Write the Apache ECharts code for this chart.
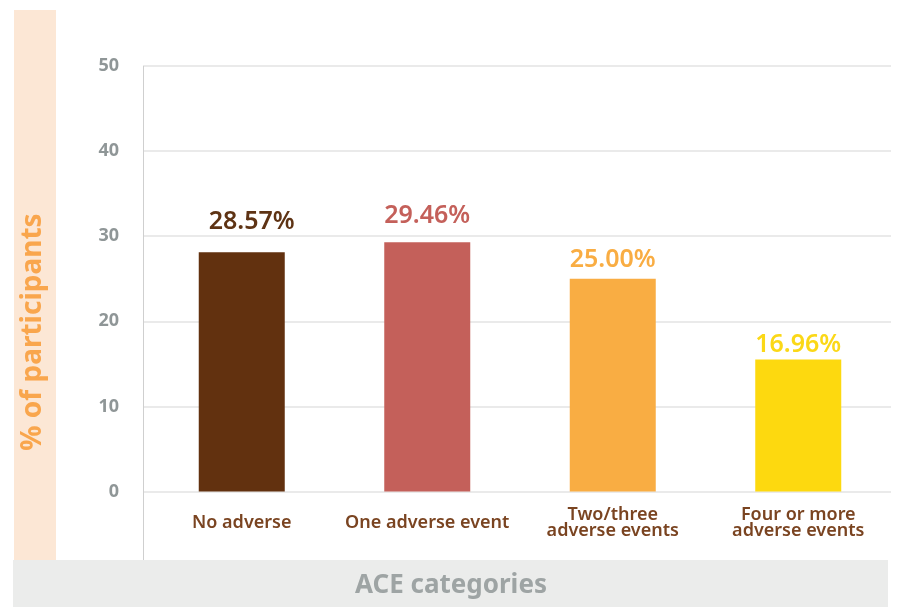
<!DOCTYPE html>
<html>
<head>
<meta charset="utf-8">
<script src="https://cdn.jsdelivr.net/npm/echarts@6/dist/echarts.min.js"></script>
<style>
html,body{margin:0;padding:0;background:#fff;}
#chart{width:900px;height:607px;}
</style>
</head>
<body>
<div id="chart"></div>
<script>
// ---- data ----
const categories = ['No adverse', 'One adverse event', 'Two/three\nadverse events', 'Four or more\nadverse events'];
const barValues = [28.1, 29.3, 25.0, 15.5];
const valueLabels = ['28.57%', '29.46%', '25.00%', '16.96%'];
const yTicks = [0, 10, 20, 30, 40, 50];

// ---- styles ----
const barColors = ['#62310F', '#C4605A', '#F9AD43', '#FDD90F'];
const labelColors = ['#5E3314', '#C4605A', '#F9AD43', '#FBD817'];
const labelDist = [18, 14, 6, 2];
const labelDx = [10, 0, 0, 0];

const chart = echarts.init(document.getElementById('chart'), null, {renderer: 'canvas'});

const option = {
  animation: false,
  backgroundColor: '#ffffff',
  grid: {left: 149, right: 9, top: 66, bottom: 115.5, containLabel: false},
  graphic: [
    {type: 'rect', z: -10, shape: {x: 14, y: 10, width: 42, height: 550}, style: {fill: '#FCE7D5'}},
    {type: 'rect', z: -10, shape: {x: 13, y: 560, width: 875, height: 47}, style: {fill: '#EBECEB'}},
    {type: 'line', z: 5, shape: {x1: 143.5, y1: 66, x2: 143.5, y2: 560}, style: {stroke: '#CFCFCF', lineWidth: 1}},
    {type: 'text', z: 10, x: 33, y: 332, rotation: Math.PI / 2,
      style: {text: '% of participants', fill: '#F9A64D', font: 'bold 28px "Noto Sans", sans-serif',
        textAlign: 'center', textVerticalAlign: 'middle'}},
    {type: 'text', z: 10, x: 451, y: 586,
      style: {text: 'ACE categories', fill: '#9EA4A4', font: 'bold 26px "Noto Sans", sans-serif',
        textAlign: 'center', textVerticalAlign: 'middle'}}
  ],
  xAxis: {
    type: 'category',
    data: categories,
    axisLine: {show: false},
    axisTick: {show: false},
    axisLabel: {
      color: '#7A4421',
      fontFamily: '"Noto Sans", sans-serif',
      fontWeight: 600,
      fontSize: 18,
      lineHeight: 16,
      margin: 31,
      verticalAlign: 'middle',
      interval: 0
    }
  },
  yAxis: {
    type: 'value',
    min: yTicks[0],
    max: yTicks[yTicks.length - 1],
    interval: yTicks[1] - yTicks[0],
    axisLine: {show: false},
    axisTick: {show: true, length: 6, lineStyle: {color: '#E3E3E3', width: 1.5}},
    splitLine: {show: true, lineStyle: {color: '#E3E3E3', width: 1.5}},
    axisLabel: {
      color: '#8F9697',
      fontFamily: '"Noto Sans", sans-serif',
      fontWeight: 'bold',
      fontSize: 18,
      margin: 30
    }
  },
  series: [{
    type: 'bar',
    barWidth: 86,
    data: barValues.map((v, i) => ({
      value: v,
      itemStyle: {color: barColors[i]},
      label: {
        show: true,
        position: 'top',
        distance: labelDist[i],
        offset: [labelDx[i], 0],
        formatter: () => valueLabels[i],
        color: labelColors[i],
        fontFamily: '"Noto Sans", sans-serif',
        fontWeight: 600,
        fontSize: 25
      }
    }))
  }]
};
chart.setOption(option);
</script>
</body>
</html>
